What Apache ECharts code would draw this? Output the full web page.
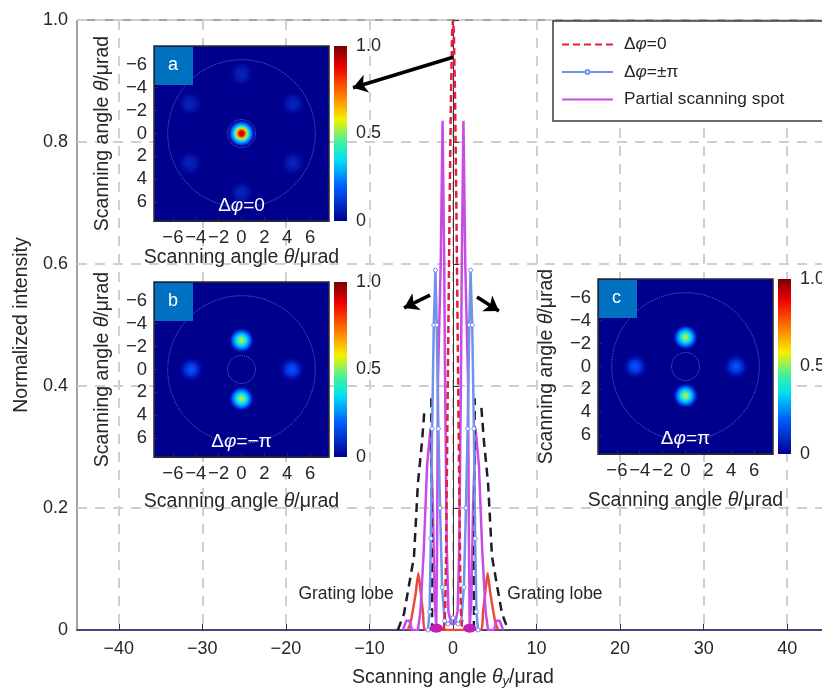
<!DOCTYPE html>
<html>
<head>
<meta charset="utf-8">
<style>html,body{margin:0;padding:0;background:#fff;overflow:hidden}#chart{width:822px;height:690px}</style>
<script src="https://cdn.jsdelivr.net/npm/echarts@6/dist/echarts.min.js"></script>
</head>
<body>
<div id="chart"></div>
<script>
// main curves: [angle, intensity]
const curvePhi0 = [[-1.1,0],[-0.95,0.03],[-0.85,0.1],[-0.7,0.3],[-0.55,0.5],[-0.4,0.7],[-0.25,0.87],[-0.1,0.98],[0,1],[0.1,0.98],[0.25,0.87],[0.4,0.7],[0.55,0.5],[0.7,0.3],[0.85,0.1],[0.95,0.03],[1.1,0]];
const curvePi = [[-3,0],[-2.8,0.03],[-2.65,0.15],[-2.5,0.33],[-2.3,0.5],[-2.1,0.59],[-1.95,0.5],[-1.75,0.33],[-1.55,0.2],[-1.3,0.07],[-1,0.015],[-0.6,0.01],[0,0.02],[0.6,0.01],[1,0.015],[1.3,0.07],[1.55,0.2],[1.75,0.33],[1.95,0.5],[2.1,0.59],[2.3,0.5],[2.5,0.33],[2.65,0.15],[2.8,0.03],[3,0]];
const curvePartial = [[-6,0],[-5.6,0.015],[-5.2,0.015],[-4.9,0],[-4.2,0],[-3.9,0.03],[-3.5,0.13],[-3.1,0.27],[-2.7,0.33],[-2.4,0.2],[-2.2,0.05],[-2,0.005],[-1.9,0.15],[-1.8,0.41],[-1.47,0.6],[-1.25,0.835],[-1.05,0.6],[-0.95,0.41],[-0.75,0.14],[-0.55,0.03],[-0.2,0.01],[0,0.01],[0.2,0.01],[0.55,0.03],[0.75,0.14],[0.95,0.41],[1.05,0.6],[1.25,0.835],[1.47,0.6],[1.8,0.41],[1.9,0.15],[2,0.005],[2.2,0.05],[2.4,0.2],[2.7,0.33],[3.1,0.27],[3.5,0.13],[3.9,0.03],[4.2,0],[4.9,0],[5.2,0.015],[5.6,0.015],[6,0]];
const curveLobe = [[-5.4,0],[-5.06,0.013],[-4.47,0.06],[-4.15,0.093],[-3.85,0.06],[-3.6,0.03],[-3.27,0],[3.27,0],[3.6,0.03],[3.85,0.06],[4.15,0.093],[4.47,0.06],[5.06,0.013],[5.4,0]];
// the dashes leave the top of each lobe open in the reference, hence the null
const curveEnvelope = [[-6.6,0],[-5.86,0.027],[-5.5,0.055],[-4.67,0.12],[-4.2,0.24],[-3.7,0.31],[-3.4,0.364],[-3,null],[-2.6,0.38],[-2.55,0.2],[-2.5,0],[-2.4,null],[2.4,null],[2.5,0],[2.55,0.2],[2.6,0.38],[3,null],[3.4,0.364],[3.7,0.31],[4.2,0.24],[4.67,0.12],[5.5,0.055],[5.86,0.027],[6.6,0]];
const bottomBlobs = [[-2,0.003],[2,0.003]];
const arrowLines = [
  [[0,0.939],[-11.97,0.889]],
  [[-2.75,0.549],[-5.86,0.528]],
  [[2.87,0.546],[5.5,0.523]]
];
const lobeLabels = [[-12.8,0.059,'Grating lobe'],[12.2,0.059,'Grating lobe']];

const xTicks = [-40,-30,-20,-10,0,10,20,30,40];
const insetTicks = [-6,-4,-2,0,2,4,6];
const barTicks = [0,0.5,1];

// spots of the insets: [x, y, peak]
const spotsA = [[0,0,1],[0,-5.2,0.1],[0,5.2,0.1],[-4.5,-2.6,0.1],[4.5,-2.6,0.1],[-4.5,2.6,0.1],[4.5,2.6,0.1]];
const spotsB = [[0,-2.55,0.6],[0,2.55,0.6],[-4.4,0,0.2],[4.4,0,0.2]];
const spotsC = [[0,-2.55,0.6],[0,2.55,0.6],[-4.4,0,0.2],[4.4,0,0.2]];
const ringRadii = [6.45,1.22];

const font = '"Liberation Sans", Arial, sans-serif';
const textColor = '#2b2523';
const jetStops = [
  {offset:0,color:'#7a0000'},{offset:0.12,color:'#ee0000'},{offset:0.3,color:'#ff8a00'},{offset:0.42,color:'#f5f000'},
  {offset:0.55,color:'#40f0a0'},{offset:0.65,color:'#00e0f0'},{offset:0.8,color:'#0060ff'},{offset:1,color:'#000090'}
];
const rich = {
  a:{fontFamily:font,fontSize:19.5,color:textColor},
  i:{fontFamily:font,fontSize:19.5,color:textColor,fontStyle:'italic'},
  s:{fontFamily:font,fontSize:13,color:textColor,fontStyle:'italic',padding:[8,0,0,0]},
  wa:{fontFamily:font,fontSize:19,color:'#fff'},
  wi:{fontFamily:font,fontSize:19,color:'#fff',fontStyle:'italic'}
};

const spotGradient = (peak) => {
  let stops;
  if (peak >= 1) {
    stops = [[0,'#a00000'],[0.2,'#f01000'],[0.34,'#ffc000'],[0.46,'#60f090'],[0.58,'#00c8f8'],[0.78,'#0040ff'],[1,'rgba(0,0,150,0)']];
  } else if (peak >= 0.5) {
    stops = [[0,'#c8e830'],[0.18,'#70f090'],[0.42,'#00d8f0'],[0.7,'#0050ff'],[1,'rgba(0,0,150,0)']];
  } else if (peak >= 0.2) {
    stops = [[0,'#0858ff'],[0.45,'#0430e0'],[1,'rgba(0,0,150,0)']];
  } else {
    stops = [[0,'#0824c0'],[0.5,'#0416a8'],[1,'rgba(0,0,150,0)']];
  }
  return new echarts.graphic.RadialGradient(0.5,0.5,0.5,stops.map(s => ({offset:s[0],color:s[1]})));
};
const spotSize = (peak) => (peak >= 1 ? 28 : 26);

const insets = [
  {tag:'a',left:154,top:46,barLeft:334,spots:spotsA,text:'{wa|Δ}{wi|φ}{wa|=0}',nameGap:27},
  {tag:'b',left:154,top:282,barLeft:334,spots:spotsB,text:'{wa|Δ}{wi|φ}{wa|=−π}',nameGap:35},
  {tag:'c',left:598,top:279,barLeft:778,spots:spotsC,text:'{wa|Δ}{wi|φ}{wa|=π}',nameGap:37}
];
const insetSize = 175;
const insetRange = 7.65;

const grids = [{left:77,top:20,width:752,height:610,outerBoundsMode:'none',show:true,backgroundColor:'#fff',borderColor:'#4a4545',borderWidth:1}];
const xAxes = [{
  gridIndex:0,type:'value',min:-45,max:45,
  name:'{a|Scanning angle }{i|θ}{s|y}{a|/μrad}',nameLocation:'middle',nameGap:37,nameTextStyle:{rich},
  axisLine:{onZero:false,lineStyle:{color:'#45457a',width:2}},
  axisTick:{inside:true,length:6,customValues:xTicks,lineStyle:{color:'#333'}},
  axisLabel:{customValues:xTicks,fontFamily:font,fontSize:18,color:textColor,margin:10,formatter:v => String(v).replace('-','−')},
  splitLine:{show:true,lineStyle:{color:'#cfcfcf',width:2,type:[10,8]}}
}];
const yAxes = [{
  gridIndex:0,type:'value',min:0,max:1,interval:0.2,
  name:'Normalized intensity',nameLocation:'middle',nameGap:45,nameTextStyle:{fontFamily:font,fontSize:19.5,color:textColor},
  axisLine:{lineStyle:{color:'#333'}},
  axisTick:{inside:true,length:6,lineStyle:{color:'#333'}},
  axisLabel:{fontFamily:font,fontSize:18,color:textColor,margin:9,formatter:v => (v === 0 ? '0' : v.toFixed(1))},
  splitLine:{show:true,lineStyle:{color:'#cfcfcf',width:2,type:[10,8]}}
}];

const series = [
  {name:'lobe',type:'line',data:curveLobe,symbol:'none',lineStyle:{color:'#ea4a3c',width:2.5},smooth:0.2,z:3},
  {name:'Partial scanning spot',type:'line',data:curvePartial,symbol:'none',itemStyle:{color:'#c94be6'},lineStyle:{color:'#c94be6',width:2.5},z:4},
  {name:'envelope',type:'line',data:curveEnvelope,symbol:'none',connectNulls:false,lineStyle:{color:'#1d1d2a',width:2.5,type:[9,6]},z:5},
  {name:'Δφ=±π',type:'line',data:curvePi,symbol:'circle',symbolSize:4,itemStyle:{color:'#fff',borderColor:'#6f93ea',borderWidth:1},lineStyle:{color:'#6f93ea',width:2.5},z:5},
  {name:'Δφ=0',type:'line',data:curvePhi0,symbol:'none',itemStyle:{color:'#e0203f'},lineStyle:{color:'#e0203f',width:2.5,type:[7,4]},z:6},
  {name:'blobs',type:'scatter',data:bottomBlobs,symbolSize:[13,9],itemStyle:{color:'#c41cb4',opacity:1},z:6},
  {name:'arrows',type:'lines',coordinateSystem:'cartesian2d',polyline:false,
    data:arrowLines.map(c => ({coords:c})),
    lineStyle:{color:'#000',width:3.5,opacity:1,curveness:0},symbol:['none','arrow'],symbolSize:14,z:7},
  {name:'lobeLabels',type:'scatter',data:lobeLabels.map(d => d.slice(0,2)),symbolSize:0,z:8,itemStyle:{opacity:1},
    label:{show:true,position:'inside',formatter:p => lobeLabels[p.dataIndex][2],fontFamily:font,fontSize:17.5,color:textColor,opacity:1}}
];

const graphic = [];
insets.forEach((inset) => {
  const g = grids.length;
  grids.push({left:inset.left,top:inset.top,width:insetSize,height:insetSize,outerBoundsMode:'none',show:true,backgroundColor:'#00008f',borderColor:'#2a2a33',borderWidth:1.5,z:3});
  xAxes.push({
    gridIndex:g,type:'value',min:-insetRange,max:insetRange,z:4,
    name:'{a|Scanning angle }{i|θ}{a|/μrad}',nameLocation:'middle',nameGap:inset.nameGap,nameTextStyle:{rich},
    axisLine:{onZero:false,lineStyle:{color:'#2a2a33'}},
    axisTick:{inside:true,length:4,customValues:insetTicks,lineStyle:{color:'#2a2a33'}},
    axisLabel:{customValues:insetTicks,fontFamily:font,fontSize:18.5,color:textColor,margin:7,hideOverlap:false,formatter:v => String(v).replace('-','−')},
    splitLine:{show:false}
  });
  yAxes.push({
    gridIndex:g,type:'value',min:-insetRange,max:insetRange,inverse:true,z:4,
    name:'{a|Scanning angle }{i|θ}{a|/μrad}',nameLocation:'middle',nameGap:41,nameTextStyle:{rich},
    axisLine:{onZero:false,lineStyle:{color:'#2a2a33'}},
    axisTick:{inside:true,length:4,customValues:insetTicks,lineStyle:{color:'#2a2a33'}},
    axisLabel:{customValues:insetTicks,fontFamily:font,fontSize:18.5,color:textColor,margin:7,hideOverlap:false,formatter:v => String(v).replace('-','−')},
    splitLine:{show:false}
  });
  ringRadii.forEach(r => {
    series.push({type:'scatter',xAxisIndex:g,yAxisIndex:g,data:[[0,0]],symbolSize:r * 2 * insetSize / (2 * insetRange),silent:true,z:5,
      itemStyle:{opacity:1,color:'rgba(0,0,0,0)',borderColor:'rgba(170,190,255,0.55)',borderWidth:1,borderType:'dotted'}});
  });
  series.push({type:'scatter',xAxisIndex:g,yAxisIndex:g,data:inset.spots.map(s => s.slice(0,2)),silent:true,z:6,
    symbolSize:(v,p) => spotSize(inset.spots[p.dataIndex][2]),
    itemStyle:{opacity:1,color:p => spotGradient(inset.spots[p.dataIndex][2])}});
  series.push({type:'scatter',xAxisIndex:g,yAxisIndex:g,data:[[0,6.3]],symbolSize:0,silent:true,z:7,itemStyle:{opacity:1},
    label:{show:true,position:'inside',formatter:inset.text,rich,opacity:1}});

  // colour bar
  const b = grids.length;
  grids.push({left:inset.barLeft,top:inset.top,width:13,height:insetSize,outerBoundsMode:'none',show:false});
  xAxes.push({gridIndex:b,type:'category',data:['c'],show:false});
  yAxes.push({
    gridIndex:b,type:'value',min:0,max:1,position:'right',
    axisLine:{show:false},axisTick:{show:false},splitLine:{show:false},
    axisLabel:{customValues:barTicks,fontFamily:font,fontSize:18,color:textColor,margin:9,formatter:v => (v === 0 ? '0' : v === 1 ? '1.0' : '0.5')}
  });
  series.push({type:'bar',xAxisIndex:b,yAxisIndex:b,data:[1],barWidth:'100%',silent:true,z:5,
    itemStyle:{color:new echarts.graphic.LinearGradient(0,0,0,1,jetStops)}});

  graphic.push({type:'rect',left:inset.left + 1,top:inset.top + 1,shape:{width:38,height:38},style:{fill:'#0070c0'},z:50});
  graphic.push({type:'text',left:inset.left + 14,top:inset.top + 10,style:{text:inset.tag,fill:'#fff',font:'18px ' + font},z:51});
});

const phiLegend = {'Δφ=0':'{a|Δ}{i|φ}{a|=0}','Δφ=±π':'{a|Δ}{i|φ}{a|=±π}','Partial scanning spot':'{a|Partial scanning spot}'};
const noSymbol = {color:'rgba(0,0,0,0)',borderWidth:0};
const chart = echarts.init(document.getElementById('chart'));
chart.setOption({
  animation:false,
  textStyle:{fontFamily:font},
  grid:grids,xAxis:xAxes,yAxis:yAxes,series,graphic,
  legend:{
    data:[{name:'Δφ=0',itemStyle:noSymbol},{name:'Δφ=±π'},{name:'Partial scanning spot',itemStyle:noSymbol}],
    orient:'vertical',left:553,top:21,
    padding:[15,90,13,8],itemGap:10.5,itemWidth:51,itemHeight:5,align:'left',
    backgroundColor:'#fff',borderColor:'#3d3836',borderWidth:1.5,z:20,
    formatter:n => phiLegend[n],
    textStyle:{padding:[0,0,0,6],rich:{
      a:{fontFamily:font,fontSize:17.3,color:textColor},
      i:{fontFamily:font,fontSize:17.3,color:textColor,fontStyle:'italic'}
    }}
  }
});
</script>
</body>
</html>
